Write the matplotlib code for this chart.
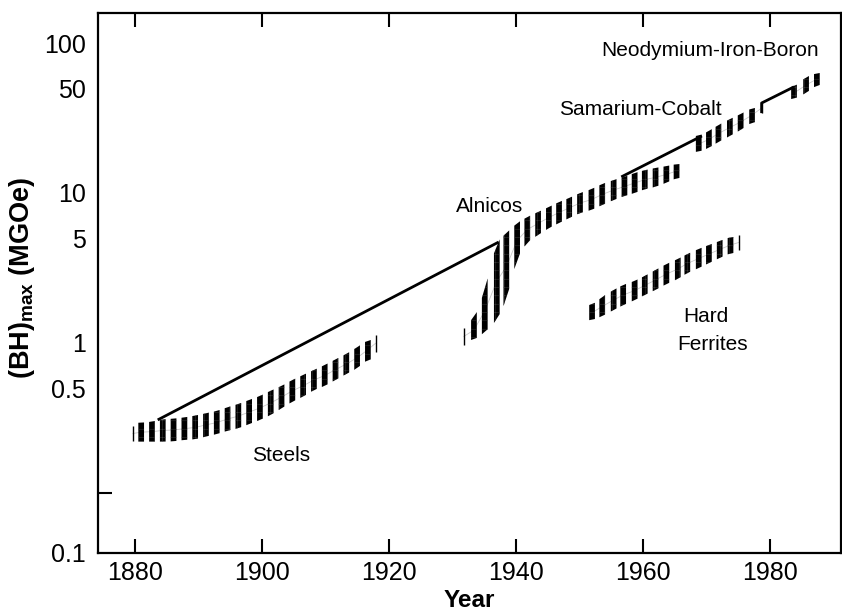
import numpy as np
import matplotlib.pyplot as plt
from matplotlib.patches import Polygon
from matplotlib.ticker import FixedLocator, NullFormatter, NullLocator

plt.rcParams['font.family'] = ['Liberation Sans', 'DejaVu Sans']
plt.rcParams['mathtext.fontset'] = 'custom'
plt.rcParams['mathtext.rm'] = 'Liberation Sans'
plt.rcParams['mathtext.bf'] = 'Liberation Sans:bold'
plt.rcParams['hatch.linewidth'] = 0.3

# (BH)max ranges per material family: stripe year, lower and upper value (MGOe)
steel_year = [1881.0, 1882.7, 1884.4, 1886.1, 1887.8, 1889.5, 1891.2, 1892.9, 1894.6, 1896.3, 1898.0,
              1899.7, 1901.4, 1903.1, 1904.8, 1906.5, 1908.2, 1909.9, 1911.6, 1913.3, 1915.0, 1916.7]
steel_lo = [0.220, 0.220, 0.220, 0.221, 0.226, 0.228, 0.238, 0.247, 0.260, 0.270, 0.288,
            0.307, 0.331, 0.367, 0.406, 0.439, 0.486, 0.517, 0.567, 0.621, 0.678, 0.778]
steel_hi = [0.294, 0.299, 0.310, 0.313, 0.319, 0.328, 0.340, 0.352, 0.373, 0.392, 0.417,
            0.443, 0.481, 0.517, 0.567, 0.612, 0.661, 0.713, 0.778, 0.845, 0.936, 1.047]
steel_ends = [(1879.7, 0.222, 0.28), (1917.9, 0.875, 1.131)]

alnico_year = [1933.4, 1935.1, 1937.0, 1938.5, 1940.2, 1941.8, 1943.5, 1945.2, 1946.8, 1948.4,
               1950.1, 1951.9, 1953.6, 1955.4, 1957.1, 1958.7, 1960.3, 1962.0, 1963.7, 1965.3]
alnico_lo = [1.047, 1.18, 1.42, 1.93, 3.69, 4.71, 5.25, 5.84, 6.31, 6.81,
             7.36, 7.70, 8.32, 8.98, 9.55, 10.0, 10.6, 11.0, 11.7, 12.6]
alnico_hi = [1.42, 2.26, 4.71, 5.41, 6.31, 6.92, 7.47, 8.07, 8.71, 9.26,
             10.0, 10.6, 11.5, 12.2, 12.8, 13.6, 14.2, 14.7, 15.1, 15.6]
alnico_ends = [(1931.8, 0.97, 1.26)]

ferrite_year = [1952.0, 1953.6, 1955.4, 1956.9, 1958.7, 1960.3, 1962.0, 1963.7, 1965.5, 1967.0,
                1968.8, 1970.4, 1972.1, 1973.8]
ferrite_lo = [1.42, 1.51, 1.66, 1.79, 1.93, 2.09, 2.26, 2.47, 2.67, 2.93, 3.16, 3.41, 3.69, 3.98]
ferrite_hi = [1.79, 2.03, 2.26, 2.44, 2.59, 2.80, 3.07, 3.36, 3.63, 3.92, 4.24, 4.50, 4.79, 5.09]
ferrite_ends = [(1975.1, 4.17, 5.25)]

smco_year = [1968.8, 1970.4, 1971.9, 1973.7, 1975.4, 1977.2]
smco_lo = [18.8, 20.0, 21.9, 24.0, 26.3, 29.7]
smco_hi = [24.0, 25.9, 28.4, 31.1, 33.6, 36.9]
smco_ends = [(1978.7, 34.1, 39.8)]

ndfeb_year = [1983.8, 1985.7, 1987.4]
ndfeb_lo = [42.3, 46.4, 52.5]
ndfeb_hi = [50.9, 59.3, 63.1]

# best-available envelope, drawn in pieces
env1_year = [1883.6, 1937.3]
env1_val = [0.307, 4.71]
env2_year = [1956.6, 1969.3]
env2_val = [12.8, 24.0]
env3_year = [1978.7, 1978.7, 1983.8]
env3_val = [34.1, 39.8, 51.0]

fig = plt.figure(figsize=(8.42, 6.16), dpi=100)
ax = fig.add_axes([98 / 842, 1 - 553 / 616, (841 - 98) / 842, (553 - 13) / 616])
ax.set_yscale('log')
ax.set_xlim(1874.2, 1991.2)
ax.set_ylim(0.0398, 158.5)


def draw_band(years, lo, hi, ends=(), w=0.9):
    years = np.asarray(years, float)
    llo = np.log10(lo)
    lhi = np.log10(hi)
    for x in years:
        xl, xr = x - w / 2, x + w / 2
        pts = [(xl, 10 ** np.interp(xl, years, llo)), (xr, 10 ** np.interp(xr, years, llo)),
               (xr, 10 ** np.interp(xr, years, lhi)), (xl, 10 ** np.interp(xl, years, lhi))]
        ax.add_patch(Polygon(pts, closed=True, facecolor='black', edgecolor='#444444',
                             linewidth=0, hatch='++', zorder=3))
    # faint line joining the stripes
    mx = [e[0] for e in ends if e[0] < years[0]] + list(years) + [e[0] for e in ends if e[0] > years[-1]]
    my = [np.sqrt(e[1] * e[2]) for e in ends if e[0] < years[0]] + list(np.sqrt(np.asarray(lo) * np.asarray(hi))) \
        + [np.sqrt(e[1] * e[2]) for e in ends if e[0] > years[-1]]
    ax.plot(mx, my, color='#c8c8c8', lw=0.6, zorder=2)
    for x, a, b in ends:
        ax.vlines(x, a, b, color='black', lw=1.0, zorder=3)


draw_band(steel_year, steel_lo, steel_hi, steel_ends)
draw_band(alnico_year, alnico_lo, alnico_hi, alnico_ends)
draw_band(ferrite_year, ferrite_lo, ferrite_hi, ferrite_ends)
draw_band(smco_year, smco_lo, smco_hi, smco_ends)
draw_band(ndfeb_year, ndfeb_lo, ndfeb_hi)

for ex, ev in [(env1_year, env1_val), (env2_year, env2_val), (env3_year, env3_val)]:
    ax.plot(ex, ev, color='black', lw=2, zorder=4, solid_capstyle='butt')

ax.text(1970.6, 89.8, 'Neodymium-Iron-Boron', fontsize=15, ha='center', va='center')
ax.text(1959.6, 35.8, 'Samarium-Cobalt', fontsize=15, ha='center', va='center')
ax.text(1935.9, 8.07, 'Alnicos', fontsize=15, ha='center', va='center')
ax.text(1970.0, 1.51, 'Hard', fontsize=15, ha='center', va='center')
ax.text(1971.0, 0.97, 'Ferrites', fontsize=15, ha='center', va='center')
ax.text(1903.1, 0.179, 'Steels', fontsize=15, ha='center', va='center')

# axes and ticks
for s in ax.spines.values():
    s.set_linewidth(1.6)
ax.set_xticks([1880, 1900, 1920, 1940, 1960, 1980])
ax.xaxis.set_minor_locator(NullLocator())
ax.tick_params(axis='x', direction='in', length=10, width=1.5, top=True, labelsize=18, pad=6)

ax.set_yticks([0.0398, 0.5, 1, 5, 10, 50, 100], labels=['0.1', '0.5', '1', '5', '10', '50', '100'])
ax.yaxis.set_minor_locator(FixedLocator([0.1, 1, 10, 100]))
ax.yaxis.set_minor_formatter(NullFormatter())
ax.tick_params(axis='y', which='major', length=0, labelsize=18, pad=9)
ax.tick_params(axis='y', which='minor', direction='in', length=10, width=1.5, right=False)

ax.set_xlabel('Year', fontsize=17.5, fontweight='bold')
ax.xaxis.set_label_coords(0.5, -0.067)
ax.set_ylabel(r'(BH)$_\mathbf{max}$ (MGOe)', fontsize=19.5, fontweight='bold')
ax.yaxis.set_label_coords(-0.082, 0.51)

fig.savefig('out.png', dpi=100)
